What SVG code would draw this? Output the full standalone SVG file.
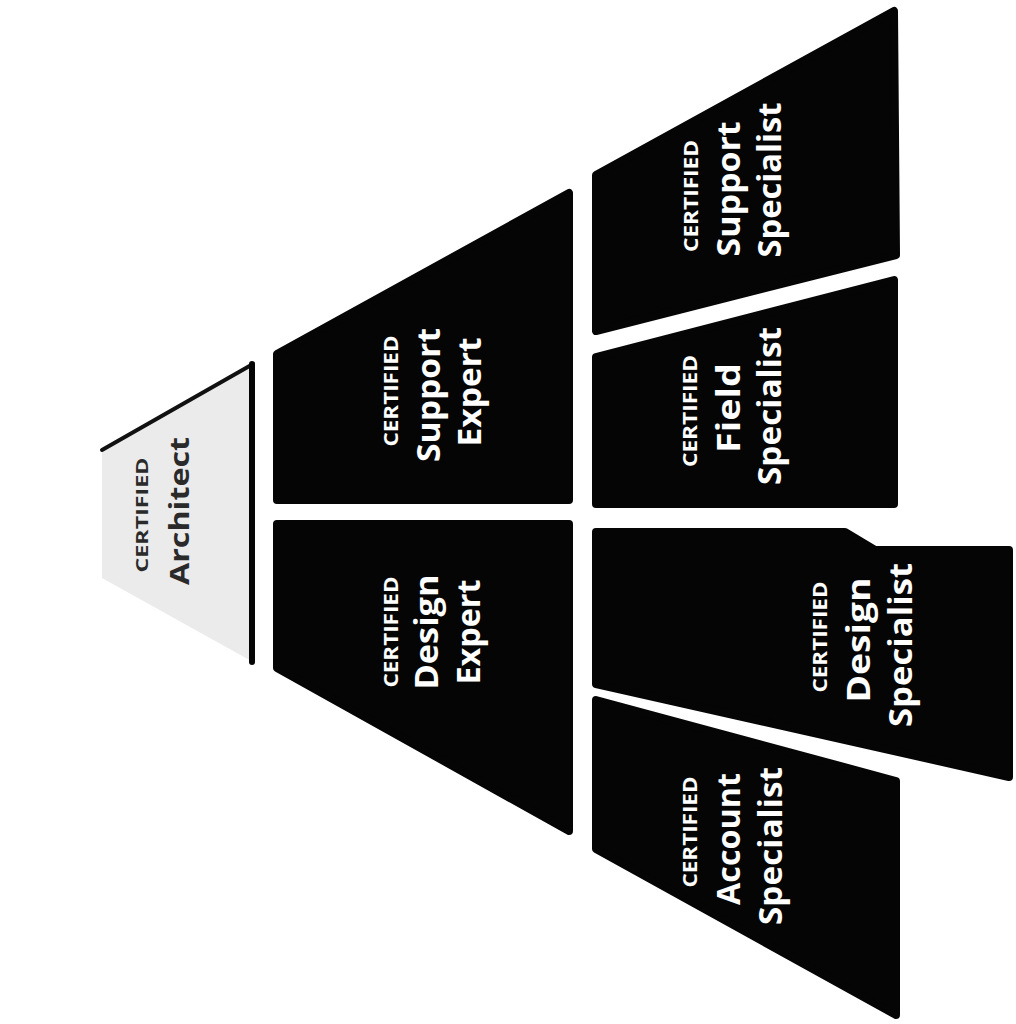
<svg xmlns="http://www.w3.org/2000/svg" width="1016" height="1024" viewBox="0 0 1016 1024">
  <style>
    .box { fill: #050505; stroke: #050505; stroke-width: 8; stroke-linejoin: round; }
    .t { font-family: "Open Sans", "Noto Sans", "Liberation Sans", sans-serif; font-weight: 700; fill: #ffffff; text-anchor: middle; }
    .cert { font-size: 20px; }
    .big { font-size: 32px; }
    .arch { fill: #2a2a2a; }
  </style>
  <rect x="0" y="0" width="1016" height="1024" fill="#ffffff"/>

  <g id="connectors"/>

  <g id="node-architect">
    <polygon points="102,450 253,364 253,662 102,578" fill="#ebebeb"/>
    <polyline points="102,450 253,364" fill="none" stroke="#111" stroke-width="4" stroke-linecap="round"/>
    <line x1="252" y1="364" x2="252" y2="662" stroke="#050505" stroke-width="6" stroke-linecap="round"/>
    <text class="t arch" font-size="16" textLength="115" lengthAdjust="spacingAndGlyphs" transform="translate(148,515) rotate(-90)">CERTIFIED</text>
    <text class="t arch" font-size="26" textLength="148" lengthAdjust="spacingAndGlyphs" transform="translate(189,511) rotate(-90)">Architect</text>
  </g>

  <g id="node-support-expert">
    <polygon class="box" points="277,354 569,193 569,500 277,500"/>
    <text class="t cert" textLength="111" lengthAdjust="spacingAndGlyphs" transform="translate(398,391) rotate(-90)">CERTIFIED</text>
    <text class="t big" textLength="134" lengthAdjust="spacingAndGlyphs" transform="translate(440,395) rotate(-90)">Support</text>
    <text class="t big" textLength="109" lengthAdjust="spacingAndGlyphs" transform="translate(481,392) rotate(-90)">Expert</text>
  </g>

  <g id="node-design-expert">
    <polygon class="box" points="277,524 569,524 569,831 277,668"/>
    <text class="t cert" textLength="111" lengthAdjust="spacingAndGlyphs" transform="translate(398,632) rotate(-90)">CERTIFIED</text>
    <text class="t big" textLength="115" lengthAdjust="spacingAndGlyphs" transform="translate(438,632) rotate(-90)">Design</text>
    <text class="t big" textLength="105" lengthAdjust="spacingAndGlyphs" transform="translate(480,632) rotate(-90)">Expert</text>
  </g>

  <g id="node-support-specialist">
    <polygon class="box" points="596,175 894,11 896,255 596,331"/>
    <text class="t cert" textLength="112" lengthAdjust="spacingAndGlyphs" transform="translate(698,196) rotate(-90)">CERTIFIED</text>
    <text class="t big" textLength="135" lengthAdjust="spacingAndGlyphs" transform="translate(740,189) rotate(-90)">Support</text>
    <text class="t big" textLength="155" lengthAdjust="spacingAndGlyphs" transform="translate(781,180) rotate(-90)">Specialist</text>
  </g>

  <g id="node-field-specialist">
    <polygon class="box" points="596,357 894,280 894,504 596,504"/>
    <text class="t cert" textLength="112" lengthAdjust="spacingAndGlyphs" transform="translate(697,411) rotate(-90)">CERTIFIED</text>
    <text class="t big" textLength="90" lengthAdjust="spacingAndGlyphs" transform="translate(740,408) rotate(-90)">Field</text>
    <text class="t big" textLength="158" lengthAdjust="spacingAndGlyphs" transform="translate(781,406) rotate(-90)">Specialist</text>
  </g>

  <g id="node-design-specialist">
    <polygon class="box" points="596,532 845,532 875,550 1009,550 1009,777 596,684"/>
    <text class="t cert" textLength="111" lengthAdjust="spacingAndGlyphs" transform="translate(827,637) rotate(-90)">CERTIFIED</text>
    <text class="t big" textLength="125" lengthAdjust="spacingAndGlyphs" transform="translate(870,640) rotate(-90)">Design</text>
    <text class="t big" textLength="164" lengthAdjust="spacingAndGlyphs" transform="translate(912,645) rotate(-90)">Specialist</text>
  </g>

  <g id="node-account-specialist">
    <polygon class="box" points="596,700 896,781 896,1015 596,849"/>
    <text class="t cert" textLength="111" lengthAdjust="spacingAndGlyphs" transform="translate(697,832) rotate(-90)">CERTIFIED</text>
    <text class="t big" textLength="132" lengthAdjust="spacingAndGlyphs" transform="translate(740,839) rotate(-90)">Account</text>
    <text class="t big" textLength="158" lengthAdjust="spacingAndGlyphs" transform="translate(782,846) rotate(-90)">Specialist</text>
  </g>
</svg>
